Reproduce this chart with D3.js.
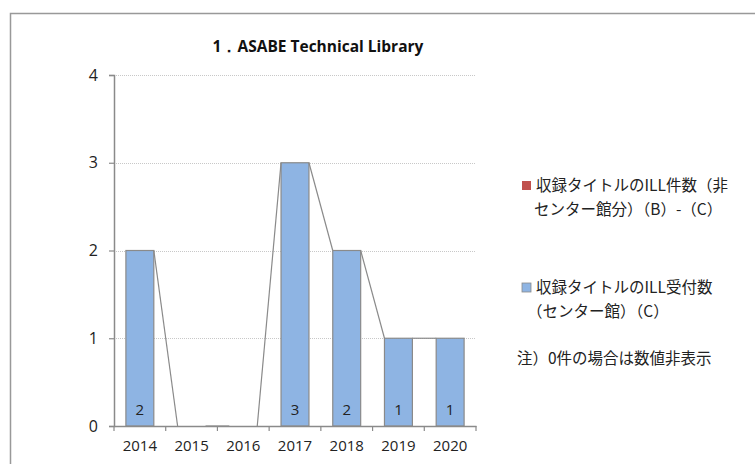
<!DOCTYPE html>
<html><head><meta charset="utf-8">
<script src="https://cdn.jsdelivr.net/npm/d3@7"></script>
<style>html,body{margin:0;padding:0;background:#fff;}</style>
</head><body>
<svg id="c" width="755" height="464"></svg>
<script>
const title = "1．ASABE Technical Library";
const years = ["2014","2015","2016","2017","2018","2019","2020"];
const centerC = [2,0,0,3,2,1,1];          // ILL受付数（センター館）（C）
const nonCenter = [0,0,0,0,0,0,0];        // ILL件数（非センター館分）（B）-（C）
const yTicks = [0,1,2,3,4];
const legendRed = ["収録タイトルのILL件数（非", "センター館分）（B）-（C）"];
const legendBlue = ["収録タイトルのILL受付数", "（センター館）（C）"];
const note = "注）0件の場合は数値非表示";

const svg = d3.select("#c");
const numFont = "'Open Sans', 'Noto Sans', sans-serif";
const jpFont = "'Noto Sans CJK JP', sans-serif";
const blue = "#8EB4E3", red = "#C0504D", edge = "#8A8A8A";

// outer frame
svg.append("path").attr("d","M10.5,464 V13.5 H755").attr("fill","none").attr("stroke","#999").attr("stroke-width",1.5);

const x0 = 114, x1 = 476;
const x = d3.scaleBand().domain(years).range([x0, x1]).paddingInner(0.46).paddingOuter(0.23);
const xb = d3.scaleBand().domain(years).range([x0, x1]).padding(0);
const y = d3.scaleLinear().domain([0,4]).range([426,75]);

// gridlines
svg.append("g").selectAll("line").data(yTicks.filter(d=>d>0)).join("line")
  .attr("x1",x0).attr("x2",x1).attr("y1",d=>Math.round(y(d))+0.5).attr("y2",d=>Math.round(y(d))+0.5)
  .attr("stroke","#c8c8c8").attr("stroke-dasharray","1,1");

const stack = years.map((yr,i)=>({year:yr, c:centerC[i], n:nonCenter[i], top:centerC[i]+nonCenter[i]}));

// bars blue
svg.append("g").selectAll("rect").data(stack.filter(d=>d.c>0)).join("rect")
  .attr("x",d=>x(d.year)).attr("y",d=>y(d.c)).attr("width",x.bandwidth()).attr("height",d=>y(0)-y(d.c))
  .attr("fill",blue).attr("stroke",edge).attr("stroke-width",1.2);
// bars red (stacked on top)
svg.append("g").selectAll("rect").data(stack.filter(d=>d.n>0)).join("rect")
  .attr("x",d=>x(d.year)).attr("y",d=>y(d.top)).attr("width",x.bandwidth()).attr("height",d=>y(d.c)-y(d.top))
  .attr("fill",red).attr("stroke",edge).attr("stroke-width",1.2);

// series lines
const segs = [];
for (let i=0;i<stack.length-1;i++){
  segs.push([x(stack[i].year)+x.bandwidth(), y(stack[i].top), x(stack[i+1].year), y(stack[i+1].top)]);
}
svg.append("g").selectAll("line").data(segs).join("line")
  .attr("x1",d=>d[0]).attr("y1",d=>d[1]).attr("x2",d=>d[2]).attr("y2",d=>d[3])
  .attr("stroke","#8A8A8A").attr("stroke-width",1.2);

// data labels (inside base)
svg.append("g").selectAll("text").data(stack.filter(d=>d.c>0)).join("text")
  .attr("x",d=>x(d.year)+x.bandwidth()/2).attr("y",y(0)-11)
  .attr("text-anchor","middle").attr("font-family",numFont).attr("font-size",15).attr("fill","#222")
  .text(d=>d.c);

// y axis
const ya = d3.axisLeft(y).tickValues(yTicks).tickSize(5).tickPadding(11).tickFormat(d3.format("d"));
const gy = svg.append("g").attr("transform",`translate(${x0},0)`).call(ya);
gy.select(".domain").attr("stroke","#8A8A8A").attr("stroke-width",1.5);
gy.selectAll(".tick line").attr("stroke","#8A8A8A").attr("stroke-width",1.2);
gy.selectAll("text").attr("font-family",numFont).attr("font-size",16).attr("fill","#222");

// x axis
const xa = d3.axisBottom(x).tickSize(0).tickPadding(14);
const gx = svg.append("g").attr("transform",`translate(0,${y(0)})`).call(xa);
gx.select(".domain").attr("stroke","#8A8A8A").attr("stroke-width",1.5);
gx.selectAll("text").attr("font-family",numFont).attr("font-size",15).attr("fill","#222");
const bounds = years.map(d=>xb(d)).concat([x1]);
svg.append("g").selectAll("line").data(bounds).join("line")
  .attr("x1",d=>d).attr("x2",d=>d).attr("y1",y(0)).attr("y2",y(0)+5)
  .attr("stroke","#8A8A8A").attr("stroke-width",1.2);

// title
svg.append("text").attr("x",318).attr("y",52).attr("text-anchor","middle")
  .attr("font-family",numFont).attr("font-weight","bold").attr("font-size",15.5).attr("fill","#111")
  .text(title);

// legend
const lg = svg.append("g").attr("font-family",jpFont).attr("font-size",15.5).attr("fill","#222");
lg.append("rect").attr("x",522).attr("y",181).attr("width",9).attr("height",9).attr("fill",red);
lg.append("text").attr("x",536).attr("y",191).text(legendRed[0]);
lg.append("text").attr("x",534).attr("y",215).text(legendRed[1]);
lg.append("rect").attr("x",522).attr("y",283).attr("width",9).attr("height",9).attr("fill",blue).attr("stroke",edge).attr("stroke-width",0.8);
lg.append("text").attr("x",536).attr("y",293).text(legendBlue[0]);
lg.append("text").attr("x",527).attr("y",317).text(legendBlue[1]);
lg.append("text").attr("x",517).attr("y",364).text(note);
</script>
</body></html>
